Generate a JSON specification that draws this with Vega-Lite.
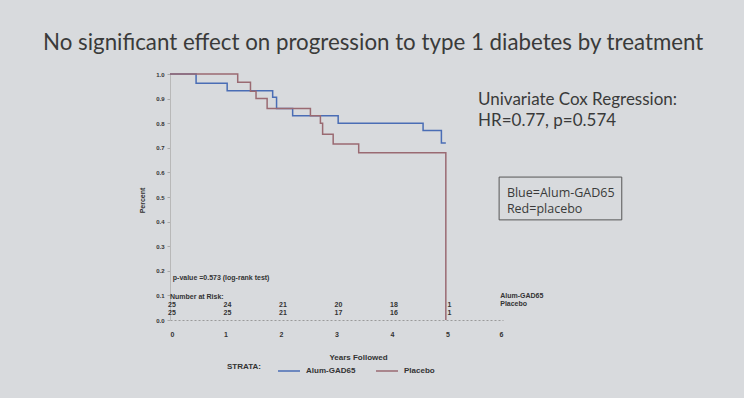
{
  "$schema": "https://vega.github.io/schema/vega-lite/v6.json",
  "width": 333,
  "height": 246,
  "autosize": {"type": "none"},
  "padding": {"left": 170, "top": 74, "right": 241, "bottom": 78},
  "background": "#d8dadd",
  "config": {"view": {"stroke": null}, "font": "Liberation Sans"},
  "title": {
    "text": "No significant effect on progression to type 1 diabetes by treatment",
    "anchor": "start",
    "frame": "group",
    "dx": -127,
    "offset": 17,
    "fontSize": 22.3,
    "font": "Lato",
    "fontWeight": "normal",
    "color": "#3a3a3a"
  },
  "resolve": {"axis": {"x": "independent", "y": "independent"}},
  "datasets": {
    "km": [
      {"series": "Alum-GAD65", "t": 0, "s": 1.0},
      {"series": "Alum-GAD65", "t": 0.47, "s": 0.962},
      {"series": "Alum-GAD65", "t": 1.03, "s": 0.932},
      {"series": "Alum-GAD65", "t": 1.85, "s": 0.905},
      {"series": "Alum-GAD65", "t": 1.92, "s": 0.86},
      {"series": "Alum-GAD65", "t": 2.21, "s": 0.83},
      {"series": "Alum-GAD65", "t": 3.03, "s": 0.8},
      {"series": "Alum-GAD65", "t": 4.56, "s": 0.77},
      {"series": "Alum-GAD65", "t": 4.89, "s": 0.72},
      {"series": "Alum-GAD65", "t": 4.97, "s": 0.72},
      {"series": "Placebo", "t": 0, "s": 1.0},
      {"series": "Placebo", "t": 1.22, "s": 0.966},
      {"series": "Placebo", "t": 1.45, "s": 0.93},
      {"series": "Placebo", "t": 1.55, "s": 0.9},
      {"series": "Placebo", "t": 1.75, "s": 0.86},
      {"series": "Placebo", "t": 2.53, "s": 0.83},
      {"series": "Placebo", "t": 2.71, "s": 0.8},
      {"series": "Placebo", "t": 2.75, "s": 0.755},
      {"series": "Placebo", "t": 2.94, "s": 0.715},
      {"series": "Placebo", "t": 3.4, "s": 0.68},
      {"series": "Placebo", "t": 4.97, "s": 0.0}
    ],
    "risk": [
      {"series": "Alum-GAD65", "year": 0, "n": 25},
      {"series": "Alum-GAD65", "year": 1, "n": 24},
      {"series": "Alum-GAD65", "year": 2, "n": 21},
      {"series": "Alum-GAD65", "year": 3, "n": 20},
      {"series": "Alum-GAD65", "year": 4, "n": 18},
      {"series": "Alum-GAD65", "year": 5, "n": 1},
      {"series": "Placebo", "year": 0, "n": 25},
      {"series": "Placebo", "year": 1, "n": 25},
      {"series": "Placebo", "year": 2, "n": 21},
      {"series": "Placebo", "year": 3, "n": 17},
      {"series": "Placebo", "year": 4, "n": 16},
      {"series": "Placebo", "year": 5, "n": 1}
    ],
    "one": [{}]
  },
  "layer": [
    {
      "data": {"name": "km"},
      "mark": {"type": "line", "interpolate": "step-after", "strokeWidth": 1.5},
      "encoding": {
        "x": {
          "field": "t",
          "type": "quantitative",
          "scale": {"domain": [0, 6], "nice": false, "zero": false},
          "axis": {
            "values": [0, 1, 2, 3, 4, 5, 6],
            "format": "d",
            "title": "Years Followed",
            "grid": false,
            "ticks": false,
            "labelOverlap": false,
            "labelBound": false,
            "domainDash": [2, 2],
            "domainColor": "#9a9a9a",
            "labelFont": "Liberation Sans",
            "labelFontWeight": "bold",
            "labelFontSize": 7,
            "labelColor": "#333333",
            "labelPadding": 10,
            "titleFont": "Liberation Sans",
            "titleFontWeight": "bold",
            "titleFontSize": 8,
            "titleColor": "#333333",
            "titleX": 188,
            "titleY": 37,
            "titleBaseline": "middle"
          }
        },
        "y": {
          "field": "s",
          "type": "quantitative",
          "scale": {"domain": [0, 1], "nice": false},
          "axis": {
            "values": [0, 0.1, 0.2, 0.3, 0.4, 0.5, 0.6, 0.7, 0.8, 0.9, 1.0],
            "format": ".1f",
            "title": "Percent",
            "grid": false,
            "labelOverlap": false,
            "labelBound": false,
            "tickSize": 3,
            "tickColor": "#aaaaaa",
            "domainColor": "#b8b8b8",
            "labelFont": "Liberation Sans",
            "labelFontWeight": "bold",
            "labelFontSize": 6,
            "labelColor": "#333333",
            "labelPadding": 3,
            "titleFont": "Liberation Sans",
            "titleFontWeight": "bold",
            "titleFontSize": 7,
            "titleColor": "#333333",
            "titleX": -28,
            "titleY": 126,
            "titleBaseline": "middle"
          }
        },
        "color": {
          "field": "series",
          "type": "nominal",
          "scale": {"domain": ["Alum-GAD65", "Placebo"], "range": ["#4a6db5", "#9a6a72"]},
          "legend": {
            "orient": "none",
            "legendX": 57,
            "legendY": 285,
            "direction": "horizontal",
            "title": "STRATA:",
            "titleOrient": "left",
            "titleFont": "Liberation Sans",
            "titleFontWeight": "bold",
            "titleFontSize": 8,
            "titleColor": "#333333",
            "titlePadding": 16,
            "titleBaseline": "middle",
            "symbolType": "stroke",
            "symbolSize": 484,
            "symbolStrokeWidth": 1.5,
            "labelFont": "Liberation Sans",
            "labelFontWeight": "bold",
            "labelFontSize": 8,
            "labelColor": "#333333",
            "labelOffset": 5,
            "columnPadding": 17
          }
        }
      }
    },
    {
      "data": {"name": "risk"},
      "transform": [{"filter": "datum.series === 'Alum-GAD65'"}],
      "mark": {"type": "text", "font": "Liberation Sans", "fontWeight": "bold", "fontSize": 7, "color": "#333333", "align": "center", "baseline": "middle", "dx": 2},
      "encoding": {
        "x": {"field": "year", "type": "quantitative", "axis": null},
        "y": {"datum": 0.061, "axis": null},
        "text": {"field": "n", "type": "nominal"}
      }
    },
    {
      "data": {"name": "risk"},
      "transform": [{"filter": "datum.series === 'Placebo'"}],
      "mark": {"type": "text", "font": "Liberation Sans", "fontWeight": "bold", "fontSize": 7, "color": "#333333", "align": "center", "baseline": "middle", "dx": 2},
      "encoding": {
        "x": {"field": "year", "type": "quantitative", "axis": null},
        "y": {"datum": 0.03, "axis": null},
        "text": {"field": "n", "type": "nominal"}
      }
    },
    {
      "data": {"name": "one"},
      "mark": {"type": "text", "font": "Liberation Sans", "fontWeight": "bold", "fontSize": 7, "color": "#333333", "align": "left", "baseline": "middle", "text": "p-value =0.573 (log-rank test)"},
      "encoding": {"x": {"datum": 0.05, "axis": null}, "y": {"datum": 0.171, "axis": null}}
    },
    {
      "data": {"name": "one"},
      "mark": {"type": "text", "font": "Liberation Sans", "fontWeight": "bold", "fontSize": 7, "color": "#333333", "align": "left", "baseline": "middle", "text": "Number at Risk:"},
      "encoding": {"x": {"datum": 0.0, "axis": null}, "y": {"datum": 0.092, "axis": null}}
    },
    {
      "data": {"name": "one"},
      "mark": {"type": "text", "font": "Liberation Sans", "fontWeight": "bold", "fontSize": 7, "color": "#333333", "align": "left", "baseline": "middle", "text": "Alum-GAD65"},
      "encoding": {"x": {"datum": 5.95, "axis": null}, "y": {"datum": 0.097, "axis": null}}
    },
    {
      "data": {"name": "one"},
      "mark": {"type": "text", "font": "Liberation Sans", "fontWeight": "bold", "fontSize": 7, "color": "#333333", "align": "left", "baseline": "middle", "text": "Placebo"},
      "encoding": {"x": {"datum": 5.95, "axis": null}, "y": {"datum": 0.067, "axis": null}}
    },
    {
      "data": {"name": "one"},
      "mark": {"type": "text", "font": "Lato", "fontSize": 17, "color": "#3a3a3a", "align": "left", "baseline": "alphabetic", "text": "Univariate Cox Regression:"},
      "encoding": {"x": {"datum": 5.55, "axis": null}, "y": {"datum": 0.872, "axis": null}}
    },
    {
      "data": {"name": "one"},
      "mark": {"type": "text", "font": "Lato", "fontSize": 17, "color": "#3a3a3a", "align": "left", "baseline": "alphabetic", "text": "HR=0.77, p=0.574"},
      "encoding": {"x": {"datum": 5.55, "axis": null}, "y": {"datum": 0.79, "axis": null}}
    },
    {
      "data": {"name": "one"},
      "mark": {"type": "rect", "fillOpacity": 0, "stroke": "#555555", "strokeWidth": 1},
      "encoding": {"x": {"datum": 5.93, "axis": null}, "x2": {"datum": 8.14}, "y": {"datum": 0.581, "axis": null}, "y2": {"datum": 0.407}}
    },
    {
      "data": {"name": "one"},
      "mark": {"type": "text", "font": "Open Sans", "fontSize": 12.5, "color": "#3a3a3a", "align": "left", "baseline": "alphabetic", "text": "Blue=Alum-GAD65"},
      "encoding": {"x": {"datum": 6.07, "axis": null}, "y": {"datum": 0.502, "axis": null}}
    },
    {
      "data": {"name": "one"},
      "mark": {"type": "text", "font": "Open Sans", "fontSize": 12.5, "color": "#3a3a3a", "align": "left", "baseline": "alphabetic", "text": "Red=placebo"},
      "encoding": {"x": {"datum": 6.07, "axis": null}, "y": {"datum": 0.433, "axis": null}}
    }
  ]
}
